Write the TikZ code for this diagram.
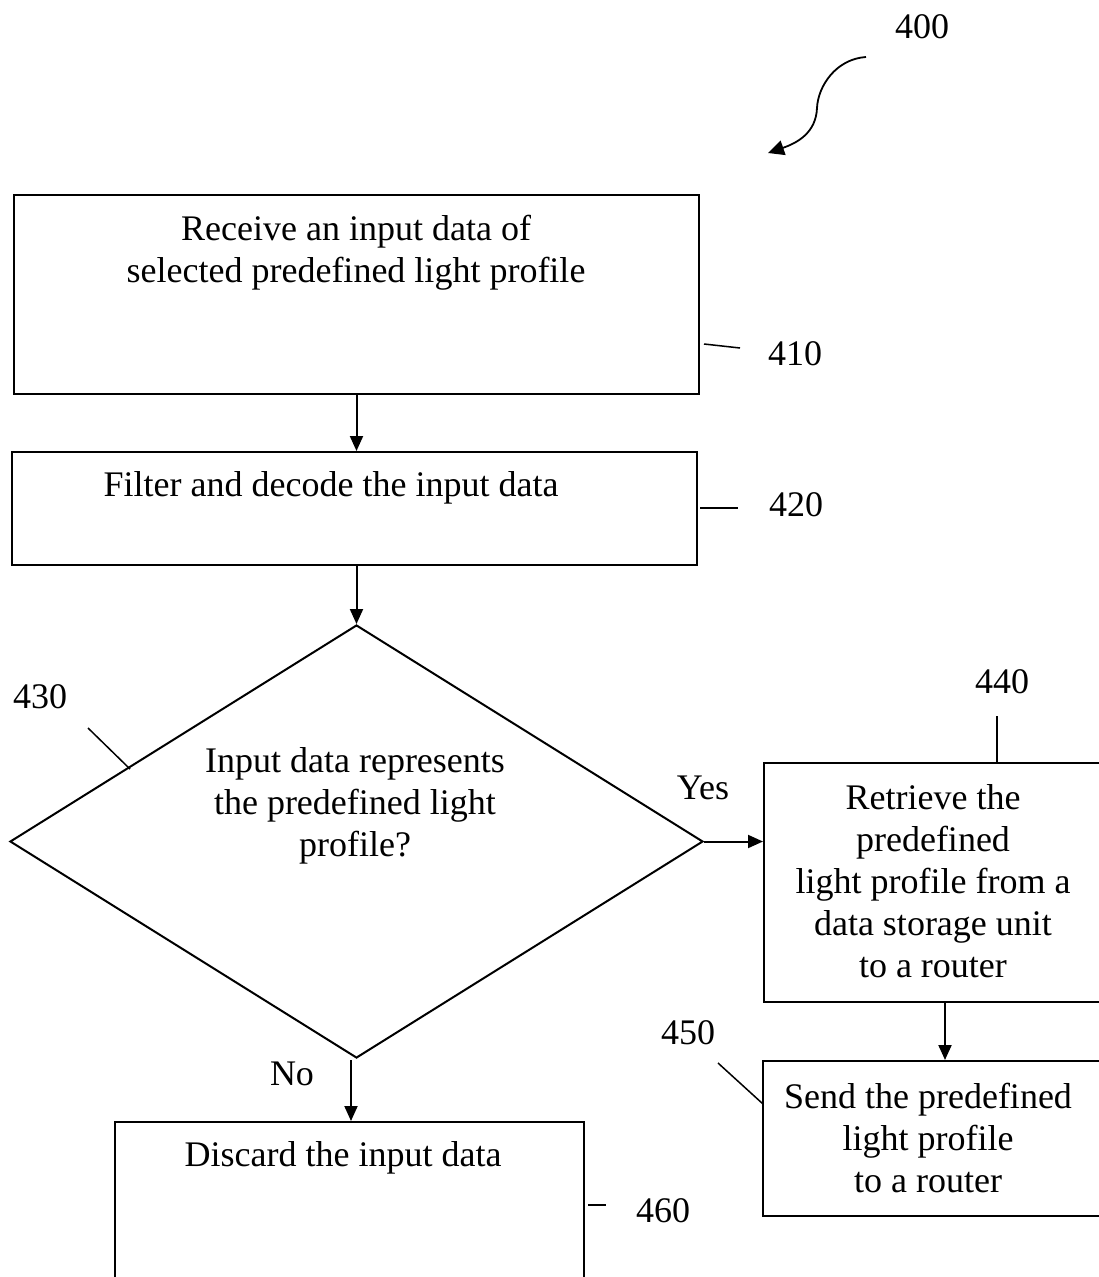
\documentclass[tikz,border=0pt]{standalone}
\usepackage{fontspec}
\setmainfont{Liberation Serif}
\usetikzlibrary{arrows.meta,shapes.geometric}
\begin{document}
\begin{tikzpicture}[x=1pt,y=-1pt,
  line width=2pt,
  every node/.style={font=\fontsize{36}{42}\selectfont},
  stepbox/.style={draw,rectangle,inner sep=0pt},
  decision/.style={draw,diamond,inner sep=0pt,minimum width=693pt,minimum height=433pt},
  txt/.style={align=center,inner sep=0pt},
  lbl/.style={inner sep=0pt},
  arr/.style={-{Triangle[length=15pt,width=13pt]}},
  leader/.style={line width=1.5pt}]
\useasboundingbox (0,0) rectangle (1099,1277);
\clip (0,0) rectangle (1099,1277);

% process boxes
\node[stepbox,minimum width=685pt,minimum height=199pt] (b410) at (356.5,294.5) {};
\node[stepbox,minimum width=685pt,minimum height=113pt] (b420) at (354.5,508.5) {};
\node[decision] (dia) at (356.5,841.5) {};
\node[stepbox,minimum width=356pt,minimum height=239pt] (b440) at (942,882.5) {};
\node[stepbox,minimum width=357pt,minimum height=155pt] (b450) at (941.5,1138.5) {};
\node[stepbox,minimum width=469pt,minimum height=190pt] (b460) at (349.5,1217) {};

% texts
\node[txt] (t410) at (356,253) {Receive an input data of\\selected predefined light profile};
\node[txt] (t420) at (331,488) {Filter and decode the input data};
\node[txt] (t430) at (355,806) {Input data represents\\the predefined light\\profile?};
\node[txt] (t440) at (933,881) {Retrieve the\\predefined\\light profile from a\\data storage unit\\to a router};
\node[txt] (t450) at (928,1138) {Send the predefined\\light profile\\to a router};
\node[txt] (t460) at (343,1158) {Discard the input data};
\node[lbl] (yes) at (703,788) {Yes};
\node[lbl] (no) at (292,1074) {No};

% reference numerals
\node[lbl] (n400) at (922,27) {400};
\node[lbl] (n410) at (795,354) {410};
\node[lbl] (n420) at (796,505) {420};
\node[lbl] (n430) at (40,697) {430};
\node[lbl] (n440) at (1002,682) {440};
\node[lbl] (n450) at (688,1033) {450};
\node[lbl] (n460) at (663,1211) {460};

% leader lines
\coordinate (l410a) at (704,344);
\coordinate (l410b) at (740,348);
\coordinate (l420a) at (700,508);
\coordinate (l420b) at (738,508);
\coordinate (l430a) at (88,728);
\coordinate (l430b) at (130,769);
\coordinate (l440a) at (997,716);
\coordinate (l450a) at (718,1063);
\coordinate (l450b) at (763,1104);
\coordinate (l460a) at (588,1205);
\coordinate (l460b) at (606,1205);
\draw[leader] (l410a) -- (l410b);
\draw[leader] (l420a) -- (l420b);
\draw[leader] (l430a) -- (l430b);
\draw[leader] (l440a) -- (l440a |- b440.north);
\draw[leader] (l450a) -- (l450b);
\draw[leader] (l460a) -- (l460b);

% flow connectors
\draw[arr] (b410.south) -- (b410.south |- b420.north);
\draw[arr] (b420.south -| b410.south) -- (dia.north);
\draw[arr] (dia.east) -- (b440.west |- dia.east);
\coordinate (c440) at (945,1002);
\draw[arr] (c440) -- (c440 |- b450.north);
\coordinate (cno) at (351,1060);
\draw[arr] (cno) -- (cno |- b460.north);

% figure pointer
\coordinate (p400a) at (866,57);
\coordinate (p400m) at (817,108);
\coordinate (p400b) at (768,153);
\draw[-{Triangle[length=16pt,width=15pt]},line width=1.8pt]
  (p400a) .. controls (836,59) and (818,86) .. (p400m)
  .. controls (816,133) and (797,143) .. (p400b);
\end{tikzpicture}
\end{document}
